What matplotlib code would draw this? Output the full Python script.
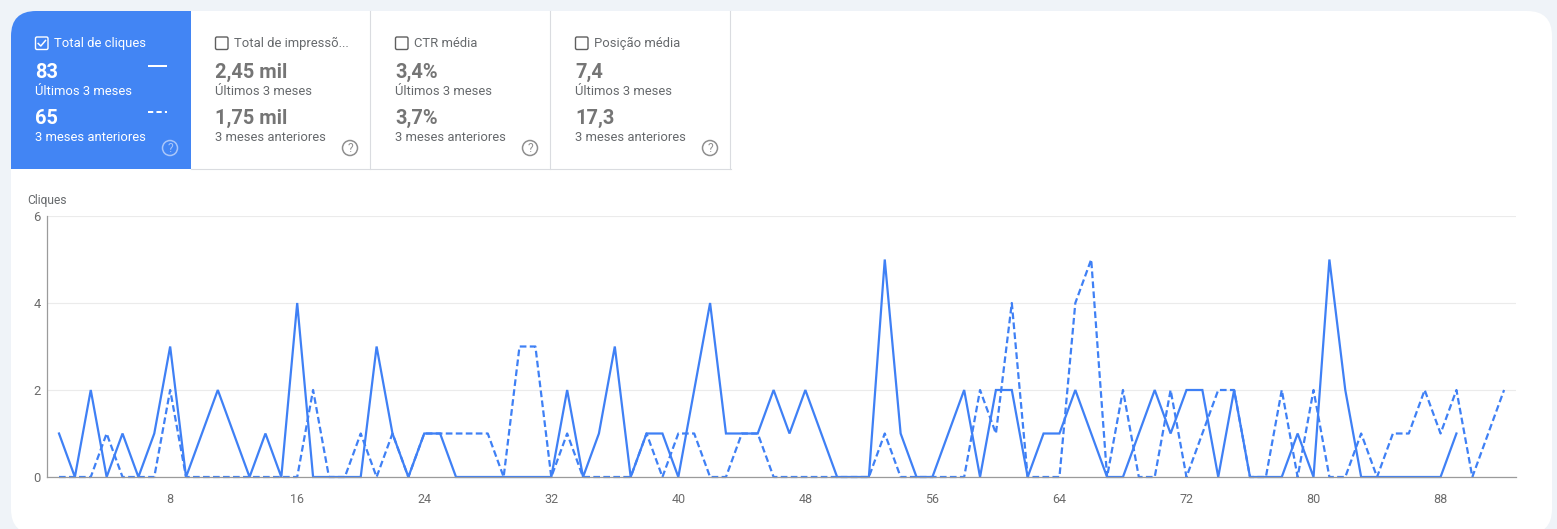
import matplotlib
matplotlib.use('Agg')
import matplotlib.pyplot as plt
import numpy as np
from matplotlib.patches import FancyBboxPatch, Rectangle, Circle

plt.rcParams['font.family'] = ['Roboto', 'DejaVu Sans']

W, H = 1557, 529

# clicks per day
current = [1, 0, 2, 0, 1, 0, 1, 3, 0, 1, 2, 1, 0, 1, 0, 4, 0, 0, 0, 0, 3, 1, 0, 1, 1, 0, 0, 0, 0, 0,
           0, 0, 2, 0, 1, 3, 0, 1, 1, 0, 2, 4, 1, 1, 1, 2, 1, 2, 1, 0, 0, 0, 5, 1, 0, 0, 1, 2, 0, 2,
           2, 0, 1, 1, 2, 1, 0, 0, 1, 2, 1, 2, 2, 0, 2, 0, 0, 0, 1, 0, 5, 2, 0, 0, 0, 0, 0, 0, 1]
previous = [0, 0, 0, 1, 0, 0, 0, 2, 0, 0, 0, 0, 0, 0, 0, 0, 2, 0, 0, 1, 0, 1, 0, 1, 1, 1, 1, 1, 0, 3,
            3, 0, 1, 0, 0, 0, 0, 1, 0, 1, 1, 0, 0, 1, 1, 0, 0, 0, 0, 0, 0, 0, 1, 0, 0, 0, 0, 0, 2, 1,
            4, 0, 0, 0, 4, 5, 0, 2, 0, 0, 2, 0, 1, 2, 2, 0, 0, 2, 0, 2, 0, 0, 1, 0, 1, 1, 2, 1, 2, 0,
            1, 2]
x_ticks = [8, 16, 24, 32, 40, 48, 56, 64, 72, 80, 88]
y_ticks = [0, 2, 4, 6]

# scorecards
card_titles = ['Total de cliques', 'Total de impressõ...', 'CTR média', 'Posição média']
card_now = ['83', '2,45 mil', '3,4%', '7,4']
card_before = ['65', '1,75 mil', '3,7%', '17,3']
label_now = 'Últimos 3 meses'
label_before = '3 meses anteriores'

BLUE = '#4285f4'
LINE = '#3f80f5'
GREY = '#66696c'
BIG = '#757575'
EDGE = '#dadce0'


def px(n):
    return n * 72 / 100


fig = plt.figure(figsize=(W / 100, H / 100), dpi=100, facecolor='#eff3f8')

# page layer in pixel coordinates
bg = fig.add_axes([0, 0, 1, 1])
bg.set_xlim(0, W)
bg.set_ylim(H, 0)
bg.axis('off')

card = FancyBboxPatch((11 + 25, 11 + 25), 1541 - 50, 523 - 50, boxstyle='round,pad=25,rounding_size=25',
                      fc='white', ec='none', mutation_aspect=1)
bg.add_patch(card)

blue = Rectangle((11, 11), 180, 158, fc=BLUE, ec='none')
bg.add_patch(blue)
blue.set_clip_path(card)

for xe in [370.5, 550.5, 730.5]:
    bg.plot([xe, xe], [11, 168.5], color=EDGE, lw=0.8)
bg.plot([191, 731], [168.5, 168.5], color=EDGE, lw=0.8)

for i in range(4):
    x0 = 35 + 180 * i
    on = i == 0
    c_title = 'white' if on else GREY
    c_big = 'white' if on else BIG
    c_small = 'white' if on else GREY
    box = FancyBboxPatch((x0 + 2.5, 39), 8.5, 8.5, boxstyle='round,pad=2,rounding_size=1.5',
                         fc='none', ec='white' if on else '#5f5f5f', lw=1.0)
    bg.add_patch(box)
    if on:
        bg.plot([x0 + 3.2, x0 + 5.8, x0 + 10.5], [43.5, 46, 40.5], color='white', lw=1.1)
    bg.text(x0 + 19, 47.4, card_titles[i], color=c_title, fontsize=px(13), va='baseline', ha='left')
    bg.text(x0, 77.8, card_now[i], color=c_big, fontsize=px(20), fontweight='bold', va='baseline', ha='left')
    bg.text(x0, 95, label_now, color=c_small, fontsize=px(13), va='baseline', ha='left')
    bg.text(x0, 123.8, card_before[i], color=c_big, fontsize=px(20), fontweight='bold', va='baseline', ha='left')
    bg.text(x0, 141, label_before, color=c_small, fontsize=px(13), va='baseline', ha='left')
    # help icon
    hx = 170 + 180 * i
    bg.add_patch(Circle((hx, 148), 7.5, fc='none', ec='#a9c6fa' if on else '#8f8f8f', lw=1.1))
    bg.text(hx, 148.3, '?', color='#a9c6fa' if on else '#8f8f8f', fontsize=px(12), ha='center', va='center')

# legend dashes on the blue card
bg.plot([148, 167], [66, 66], color='white', lw=1.45, solid_capstyle='butt')
bg.plot([148, 167], [112, 112], color='white', lw=1.45, linestyle=(0, (2.6, 1.6)))

bg.text(27, 204, 'Cliques', color=GREY, fontsize=px(12), va='baseline', ha='left')

# chart
left, right, top, bottom = 47, 1516, 216, 477
ax = fig.add_axes([left / W, 1 - bottom / H, (right - left) / W, (bottom - top) / H])
ax.patch.set_alpha(0)
days_now = np.arange(1, len(current) + 1)
days_before = np.arange(1, len(previous) + 1)
ax.plot(days_before, previous, color=LINE, lw=1.6, linestyle=(0, (3.0, 1.5)), clip_on=False)
ax.plot(days_now, current, color=LINE, lw=1.6, solid_joinstyle='miter', clip_on=False)

# pixel scale: 8 -> 170, 16 -> 297
ax.set_xlim(1 + (left - 59) / 15.88, 1 + (right - 59) / 15.88)
ax.set_ylim(0, 6)
ax.set_xticks(x_ticks)
ax.set_yticks(y_ticks)
ax.tick_params(axis='both', length=0, labelcolor='#6b6b6b')
ax.tick_params(axis='x', pad=11.8, labelsize=px(12.5))
ax.tick_params(axis='y', pad=4.5, labelsize=px(13))
ax.grid(axis='y', color='#ebebeb', lw=0.8)
ax.set_axisbelow(True)
for s in ['top', 'right']:
    ax.spines[s].set_visible(False)
for s in ['left', 'bottom']:
    ax.spines[s].set_color('#9b9b9b')
    ax.spines[s].set_linewidth(0.9)

fig.savefig('out.png', dpi=100, facecolor=fig.get_facecolor())
